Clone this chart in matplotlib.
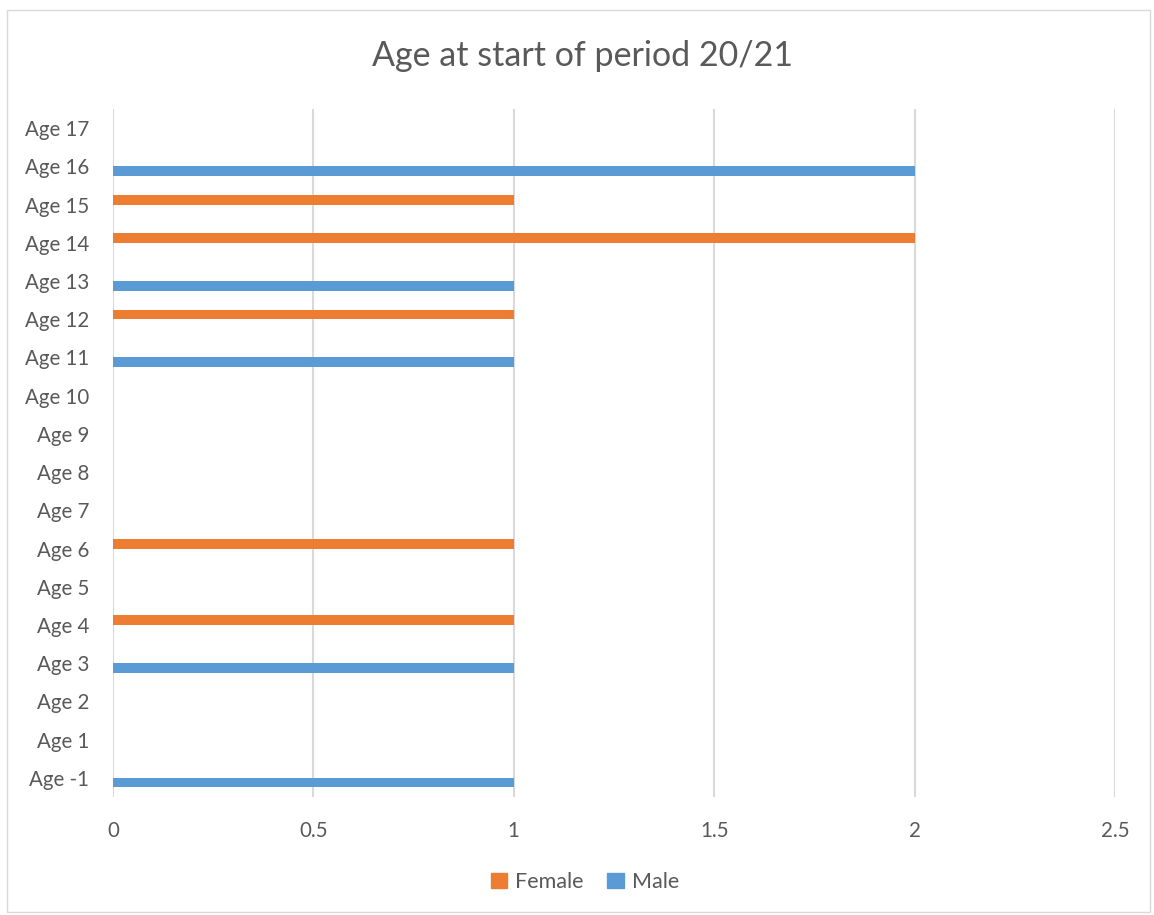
import matplotlib
matplotlib.use("Agg")
import matplotlib.pyplot as plt
from matplotlib.patches import Rectangle, Patch
import numpy as np

categories = ["Age -1", "Age 1", "Age 2", "Age 3", "Age 4", "Age 5", "Age 6", "Age 7",
              "Age 8", "Age 9", "Age 10", "Age 11", "Age 12", "Age 13", "Age 14",
              "Age 15", "Age 16", "Age 17"]
female = [0, 0, 0, 0, 1, 0, 1, 0, 0, 0, 0, 0, 1, 0, 2, 1, 0, 0]
male = [1, 0, 0, 1, 0, 0, 0, 0, 0, 0, 0, 1, 0, 1, 0, 0, 2, 0]
xticks = [0, 0.5, 1, 1.5, 2, 2.5]
xticklabels = ["0", "0.5", "1", "1.5", "2", "2.5"]

ORANGE = "#ED7D31"
BLUE = "#5B9BD5"
TXT = "#595959"
GRID = "#D9D9D9"
plt.rcParams['font.family'] = ['Lato', 'DejaVu Sans']

fig = plt.figure(figsize=(11.54, 9.15), dpi=100)
fig.patches.append(Rectangle((7/1154, 3/915), 1143/1154, 902/915, transform=fig.transFigure,
                             fill=False, edgecolor="#D9D9D9", linewidth=1))
ax = fig.add_axes([113/1154, 1-797/915, (1115-113)/1154, (797-109)/915])

y = np.arange(len(categories))
h = 0.25
ax.barh(y + h/2, female, height=h, color=ORANGE, label="Female", zorder=3)
ax.barh(y - h/2, male, height=h, color=BLUE, label="Male", zorder=3)

ax.set_xlim(0, 2.5)
ax.set_ylim(-0.5, len(categories) - 0.5)
ax.set_xticks(xticks)
ax.set_xticklabels(xticklabels)
ax.set_yticks(y)
ax.set_yticklabels(categories)
ax.grid(axis="x", color=GRID, linewidth=1.5, zorder=0)
for s in ax.spines.values():
    s.set_visible(False)
ax.tick_params(axis="both", length=0, colors=TXT, labelsize=14.8)
ax.tick_params(axis="y", pad=17)
ax.tick_params(axis="x", pad=17)

fig.text(582/1154, 1-56/915, "Age at start of period 20/21", ha="center", va="center",
         fontsize=24.5, color=TXT)

handles = [Patch(color=ORANGE), Patch(color=BLUE)]
fig.legend(handles, ["Female", "Male"], loc="center", bbox_to_anchor=(585/1154, 1-882/915),
           ncol=2, frameon=False, fontsize=15.5, labelcolor=TXT, handlelength=0.75,
           handleheight=0.75, handletextpad=0.4, columnspacing=1.1)

fig.savefig("out.png", dpi=100)
